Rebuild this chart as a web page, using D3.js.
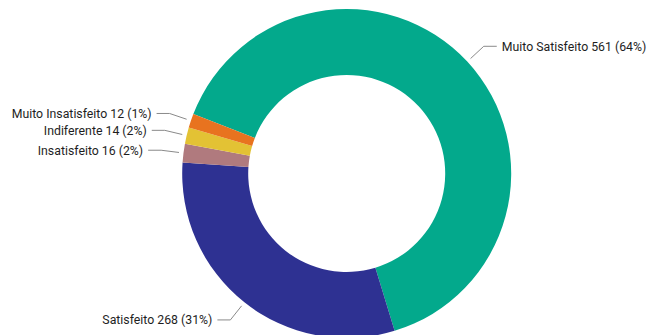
<!DOCTYPE html>
<html><head><meta charset="utf-8">
<script src="https://cdn.jsdelivr.net/npm/d3@7/dist/d3.min.js"></script>
<style>html,body{margin:0;padding:0;background:#fff;}svg{display:block;}</style>
</head><body><svg id="c" width="647" height="335"></svg>
<script>
const categories = ["Muito Satisfeito", "Satisfeito", "Insatisfeito", "Indiferente", "Muito Insatisfeito"];
const counts = [561, 268, 16, 14, 12];
const percents = ["64%", "31%", "2%", "2%", "1%"];
const colors = ["#03A98C", "#2E3192", "#B07A7E", "#E3C234", "#E8731F"];

const W = 647, H = 335;
const cx = 346.7, cy = 173.5, R = 164.5, r0 = 98.5;
const svg = d3.select("#c");
const g = svg.append("g").attr("transform", `translate(${cx},${cy})`);

const start = -68.8 * Math.PI / 180;
const pie = d3.pie().sort(null).value(d => d.v).startAngle(start).endAngle(start + 2 * Math.PI);
const data = categories.map((c, i) => ({c, v: counts[i], p: percents[i], col: colors[i]}));
const arcs = pie(data);
const arc = d3.arc().innerRadius(r0).outerRadius(R);

g.selectAll("path.s").data(arcs).join("path").attr("class", "s")
  .attr("d", arc).attr("fill", d => d.data.col);

const pt = (a, rad) => [rad * Math.sin(a), -rad * Math.cos(a)];
arcs.forEach(d => {
  const m = (d.startAngle + d.endAngle) / 2;
  const p1 = pt(m, 169), p2 = pt(m, 187);
  const right = Math.sin(m) > 0;
  const p3 = [p2[0] + (right ? 13 : -13), p2[1]];
  g.append("polyline").attr("points", [p1, p2, p3].map(p => p.join(",")).join(" "))
    .attr("fill", "none").attr("stroke", "#8a8a8a").attr("stroke-width", 1);
  g.append("text").attr("x", p3[0] + (right ? 5 : -5)).attr("y", p3[1])
    .attr("dy", "0.35em").attr("text-anchor", right ? "start" : "end")
    .attr("font-family", "Roboto, 'Open Sans', sans-serif").attr("font-size", 12.3)
    .attr("fill", "#1e1e1e")
    .text(`${d.data.c} ${d.data.v} (${d.data.p})`);
});
</script></body></html>
